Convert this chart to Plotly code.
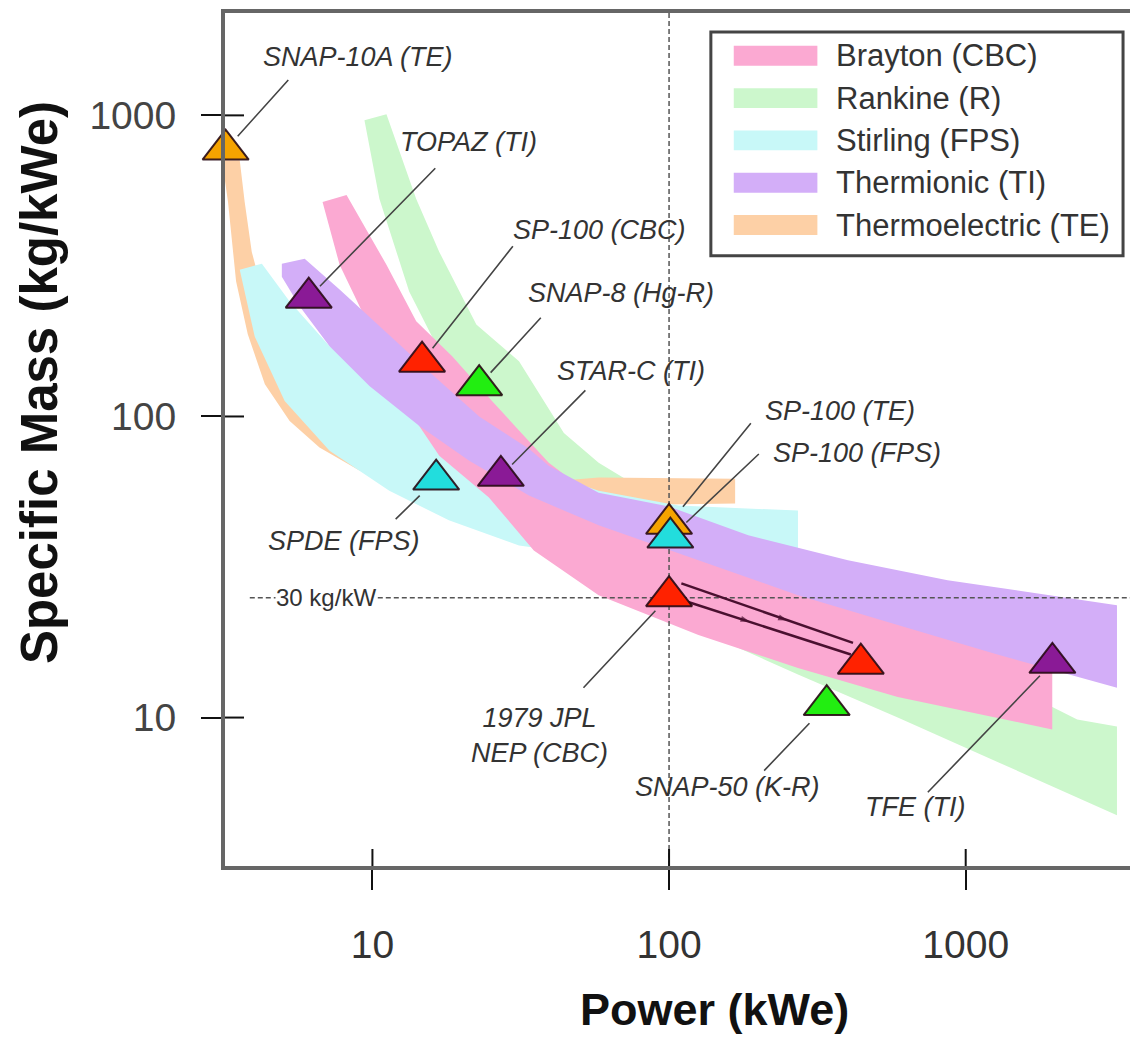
import numpy as np
import plotly.graph_objects as go

# ---------------- data ----------------
tech_names = ["Brayton (CBC)", "Rankine (R)", "Stirling (FPS)", "Thermionic (TI)", "Thermoelectric (TE)"]
tech_codes = ["CBC", "R", "FPS", "TI", "TE"]
band_colors = ["#fba9d2", "#ccf7cc", "#c8f8f8", "#d3aef8", "#fdd0a6"]
marker_colors = {"CBC": "#ff2200", "R": "#22ee11", "FPS": "#22dddd", "TI": "#8a1a96", "TE": "#f5a300"}

# band outlines: upper edge (left->right) and lower edge (right->left), kWe / kg/kWe
brayton_upper_x = [8.18, 11.15, 14.05, 18.57, 25.3, 39.3, 57.9, 100, 272, 590, 1958]
brayton_upper_y = [544, 319, 207, 158.5, 112.5, 70.2, 52.6, 46.9, 32.0, 24.5, 18.4]
brayton_lower_x = [1958, 590, 272, 125.6, 57.9, 35.0, 24.7, 16.8, 13.3, 11.2, 9.40, 7.75, 6.79]
brayton_lower_y = [9.13, 11.7, 14.6, 18.8, 25.5, 35.9, 53.8, 74.0, 104.3, 146.9, 214.7, 319, 516]

rankine_upper_x = [11.15, 14.05, 16.8, 22.4, 31.2, 37.8, 44.2, 57.9, 85.3, 146.6, 401, 1279, 2376, 3236]
rankine_upper_y = [1008, 528, 352, 202, 152.6, 112.5, 88.2, 70.2, 55.8, 40.3, 21.9, 13.4, 9.85, 9.34]
rankine_lower_x = [3236, 1279, 590, 272, 119, 62.6, 39.3, 24.7, 17.5, 13.3, 10.56, 9.40]
rankine_lower_y = [4.74, 7.10, 10.0, 13.9, 20.0, 30.9, 52.6, 89.5, 152.6, 260, 528, 963]

stirling_upper_x = [4.24, 5.26, 7.17, 10.56, 15.5, 22.9, 36.4, 57.9, 107.6, 272]
stirling_upper_y = [321.7, 241, 171, 126.2, 96.6, 79.9, 66.1, 56.7, 50.6, 48.7]
stirling_lower_x = [272, 107.6, 57.9, 31.2, 18.1, 11.4, 7.17, 5.06, 4.01, 3.57]
stirling_lower_y = [35.1, 34.6, 34.3, 37.3, 45.2, 56.7, 76.9, 112.5, 184.5, 307]

thermionic_upper_x = [4.95, 5.91, 7.75, 10.56, 15.5, 22.9, 33.7, 39.3, 57.9, 78.9, 100, 184.9, 401, 869, 3236]
thermionic_upper_y = [321.7, 334, 264, 199, 141, 100, 78.1, 68.6, 55.8, 52.6, 50.2, 40.3, 33.3, 28.6, 23.6]
thermionic_lower_x = [3236, 1279, 590, 272, 125.6, 57.9, 33.7, 21.2, 14.4, 9.77, 7.17, 5.69, 4.95]
thermionic_lower_y = [12.56, 16.2, 20.3, 25.5, 33.3, 43.5, 54.6, 71.3, 93.0, 126.2, 171, 231.8, 291]

thermoelectric_upper_x = [3.57, 3.71, 3.92, 4.34, 5.26, 7.17, 10.56, 18.1, 36.4, 57.9, 167]
thermoelectric_upper_y = [710, 516, 352, 241, 165, 116.9, 95.2, 76.9, 60.3, 62.7, 62.1]
thermoelectric_lower_x = [167, 57.9, 26.7, 14.4, 9.04, 6.63, 5.26, 4.34, 3.80, 3.47, 3.26, 3.11]
thermoelectric_lower_y = [51.4, 50.6, 54.6, 61.2, 66.1, 78.8, 96.6, 128, 187.4, 281, 516, 710]

# flight / design systems
system_labels = ["SNAP-10A (TE)", "TOPAZ (TI)", "SP-100 (CBC)", "SNAP-8 (Hg-R)", "STAR-C (TI)",
                 "SPDE (FPS)", "SP-100 (TE)", "SP-100 (FPS)", "1979 JPL<br>NEP (CBC)", "",
                 "SNAP-50 (K-R)", "TFE (TI)"]
system_power = [3.2, 6.1, 14.7, 22.9, 27.1, 16.4, 100, 101, 100, 443, 340, 1960]
system_mass = [770, 248, 152, 127, 63.5, 61.7, 44.0, 39.6, 25.3, 15.1, 11.0, 15.2]
system_type = ["TE", "TI", "CBC", "R", "TI", "FPS", "TE", "FPS", "CBC", "CBC", "R", "TI"]

# 1979 JPL NEP growth path (two parallel arrows, middle point carries the arrow mark)
nep_path_a_x = [110, 251, 417]
nep_path_a_y = [27.9, 21.0, 17.7]
nep_path_b_x = [116, 187.5, 410]
nep_path_b_y = [24.2, 20.8, 16.2]

ref_power = 100      # kWe reference
ref_mass = 25        # "30 kg/kW" goal line

x_ticks = [10, 100, 1000]
y_ticks = [10, 100, 1000]

# ---------------- layout constants (page pixels; page body has an 8px margin) ----------------
BODY = 8
PLOT_L, PLOT_T, PLOT_R, PLOT_B = 225, 9, 1137, 866
W, H = 1130, 1029
L = PLOT_L - BODY
T = PLOT_T - BODY
R = W - (PLOT_R - BODY)
B = H - (PLOT_B - BODY)
PW, PH = PLOT_R - PLOT_L, PLOT_B - PLOT_T
XR = [0.503, 3.564]
YR = [0.507, 3.340]


def px(xp):
    return (xp - PLOT_L) / PW


def py(yp):
    return (PLOT_B - yp) / PH


FONT = "Liberation Sans, Arial, sans-serif"

fig = go.Figure()

bands = {
    "TE": (thermoelectric_upper_x, thermoelectric_upper_y, thermoelectric_lower_x, thermoelectric_lower_y),
    "R": (rankine_upper_x, rankine_upper_y, rankine_lower_x, rankine_lower_y),
    "FPS": (stirling_upper_x, stirling_upper_y, stirling_lower_x, stirling_lower_y),
    "CBC": (brayton_upper_x, brayton_upper_y, brayton_lower_x, brayton_lower_y),
    "TI": (thermionic_upper_x, thermionic_upper_y, thermionic_lower_x, thermionic_lower_y),
}
for code in ["R", "TE", "FPS", "CBC", "TI"]:
    ux, uy, lx, ly = bands[code]
    color = band_colors[tech_codes.index(code)]
    fig.add_trace(go.Scatter(x=ux + lx, y=uy + ly, mode="lines", fill="toself",
                             fillcolor=color, line=dict(width=0, color=color),
                             hoverinfo="skip", showlegend=False))

# reference dashed lines
fig.add_trace(go.Scatter(x=[ref_power, ref_power], y=[10 ** YR[0], 10 ** YR[1]], mode="lines",
                         line=dict(color="#555", width=1.5, dash="5px,3px"),
                         showlegend=False, hoverinfo="skip"))
fig.add_trace(go.Scatter(x=[3.86, 10 ** XR[1]], y=[ref_mass, ref_mass], mode="lines",
                         line=dict(color="#555", width=1.5, dash="5px,3px"),
                         showlegend=False, hoverinfo="skip"))

# NEP arrows
for xs, ys in [(nep_path_a_x, nep_path_a_y), (nep_path_b_x, nep_path_b_y)]:
    fig.add_trace(go.Scatter(x=xs, y=ys, mode="lines+markers", line=dict(color="#4a1030", width=2.5),
                             marker=dict(symbol="arrow", angleref="previous", size=[0, 10, 0],
                                         color="#4a1030", line=dict(width=0)),
                             showlegend=False, hoverinfo="skip"))

# system markers
fig.add_trace(go.Scatter(
    x=system_power, y=system_mass, mode="markers", cliponaxis=False,
    marker=dict(symbol="triangle-up", size=40,
                color=[marker_colors[t] for t in system_type],
                line=dict(color="rgba(40,10,20,0.9)", width=2)),
    showlegend=False, hoverinfo="skip"))

annotations = []
# label offsets (text center dx, dy ; leader tail dx, dy ; standoff), in pixels
label_layout = [
    (132, -93, 64, -71, 18),
    (160, -156, 128, -131, 16),
    (177, -132, 92, -117, 17),
    (142, -92, 63, -69, 17),
    (130, -105, 86, -87, 16),
    (-92, 61, -42, 41, 23),
    (171, -113, 83, -102, 22),
    (187, -85, 90, -85, 22),
    (-130, 139, -87, 93, 20),
    None,
    (-99, 82, -64, 67, 25),
    (-137, 144, -126, 131, 18),
]
for lab, xv, yv, lay in zip(system_labels, system_power, system_mass, label_layout):
    if lay is None or not lab:
        continue
    tdx, tdy, adx, ady, so = lay
    annotations.append(dict(x=np.log10(xv), y=np.log10(yv), xref="x", yref="y", text="",
                            showarrow=True, arrowhead=0, arrowwidth=1.6, arrowcolor="#444",
                            ax=adx, ay=ady, standoff=so))
    annotations.append(dict(x=np.log10(xv), y=np.log10(yv), xref="x", yref="y",
                            text="<i>" + lab + "</i>", showarrow=False,
                            xshift=tdx, yshift=-tdy, xanchor="center", yanchor="middle",
                            font=dict(family=FONT, size=27, color="#333"),
                            align="center"))

# goal line label
annotations.append(dict(x=np.log10(7.0), y=np.log10(ref_mass), xref="x", yref="y",
                        text="30 kg/kW", showarrow=False, bgcolor="white",
                        font=dict(family=FONT, size=24, color="#333"),
                        xanchor="center", yanchor="middle", borderpad=0))

# axis titles
annotations.append(dict(x=px(717), y=py(1010), xref="paper", yref="paper",
                        text="<b>Power (kWe)</b>", showarrow=False,
                        font=dict(family=FONT, size=45, color="#111"),
                        xanchor="center", yanchor="middle"))
annotations.append(dict(x=px(38), y=py(380), xref="paper", yref="paper",
                        text="<b>Specific Mass (kg/kWe)</b>", showarrow=False, textangle=-90,
                        font=dict(family=FONT, size=51, color="#111"),
                        xanchor="center", yanchor="middle"))

shapes = []
# inner halves of the tick marks (ticks cross the frame)
for v in x_ticks:
    shapes.append(dict(type="line", xref="x", yref="paper", x0=v, x1=v,
                       ysizemode="pixel", yanchor=0, y0=0, y1=17,
                       line=dict(color="#111", width=2), layer="above"))
for v in y_ticks:
    shapes.append(dict(type="line", xref="paper", yref="y", y0=v, y1=v,
                       xsizemode="pixel", xanchor=0, x0=0, x1=19,
                       line=dict(color="#111", width=2), layer="above"))

# custom legend
shapes.append(dict(type="rect", xref="paper", yref="paper", x0=px(713), x1=px(1127),
                   y0=py(253), y1=py(28), line=dict(color="#444", width=3), fillcolor="white",
                   layer="above"))
for i, (name, col) in enumerate(zip(tech_names, band_colors)):
    yc = 52 + 42.5 * i
    shapes.append(dict(type="rect", xref="paper", yref="paper", x0=px(736), x1=px(820),
                       y0=py(yc + 10), y1=py(yc - 10), line=dict(width=0), fillcolor=col,
                       layer="above"))
    annotations.append(dict(x=px(837), y=py(yc), xref="paper", yref="paper", text=name,
                            showarrow=False, xanchor="left", yanchor="middle",
                            font=dict(family=FONT, size=31, color="#333")))

axis_common = dict(type="log", showgrid=False, zeroline=False)
fig.update_layout(
    width=W, height=H,
    margin=dict(l=L, r=R, t=T, b=B),
    plot_bgcolor="white", paper_bgcolor="white",
    showlegend=False,
    xaxis=dict(**axis_common, range=XR, tickvals=x_ticks, ticktext=[str(v) for v in x_ticks],
               ticks="outside", ticklen=20, tickwidth=2, tickcolor="#111",
               showline=True, linecolor="#666", linewidth=4, mirror=True,
               ticklabelstandoff=21,
               tickfont=dict(family=FONT, size=39, color="#333")),
    yaxis=dict(**axis_common, range=YR, tickvals=y_ticks, ticktext=[str(v) for v in y_ticks],
               ticks="outside", ticklen=20, tickwidth=2, tickcolor="#111",
               showline=True, linecolor="#666", linewidth=4, mirror=True,
               ticklabelstandoff=17,
               tickfont=dict(family=FONT, size=39, color="#444")),
    annotations=annotations,
    shapes=shapes,
)

fig.write_html("out.html")
